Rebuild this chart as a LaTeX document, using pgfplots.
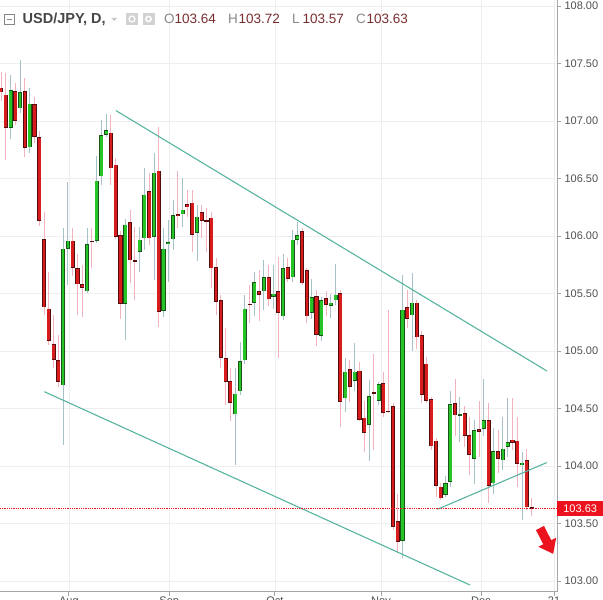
\documentclass[border=0pt]{standalone}
\usepackage{fontspec}
\setmainfont{Liberation Sans}
\usepackage{pgfplots}
\pgfplotsset{compat=1.18}
\usepackage{pgfplotstable}

\definecolor{upfill}{RGB}{38,196,38}
\definecolor{upedge}{RGB}{25,85,25}
\definecolor{dnfill}{RGB}{214,28,28}
\definecolor{dnedge}{RGB}{85,12,12}
\definecolor{upwick}{RGB}{166,193,200}
\definecolor{dnwick}{RGB}{242,178,190}
\definecolor{trend}{RGB}{88,180,160}
\definecolor{pricered}{RGB}{235,20,30}
\definecolor{axisgray}{RGB}{165,165,165}
\definecolor{gridgray}{RGB}{238,238,238}
\definecolor{labelgray}{RGB}{80,80,80}
\definecolor{hdrtext}{RGB}{70,70,70}
\definecolor{hdrval}{RGB}{120,45,45}
\definecolor{hdrgray}{RGB}{135,135,135}

% down (red) candles: index open high low close
\pgfplotstableread{
i o h l c
0 107.29 107.43 107.17 107.25
1 107.23 107.42 106.66 106.94
3 107.26 107.33 106.97 107.00
5 107.26 107.37 106.69 106.77
7 107.15 107.21 106.81 106.86
8 106.86 106.91 106.09 106.13
9 105.97 106.21 105.31 105.38
10 105.37 105.69 105.05 105.09
11 105.06 105.31 104.85 104.92
12 104.92 105.14 104.69 104.73
15 105.96 106.07 105.65 105.72
16 105.72 105.84 105.31 105.58
17 105.58 105.75 105.30 105.55
19 105.96 106.07 105.72 105.95
23 106.90 107.05 106.44 106.59
24 106.62 106.68 105.97 105.99
25 106.01 106.04 105.28 105.41
27 106.12 106.23 105.59 105.79
28 105.79 106.08 105.44 105.78
31 106.39 106.55 105.92 105.98
33 106.57 106.95 105.21 105.34
37 106.19 106.57 106.07 106.17
39 106.28 106.40 106.17 106.25
40 106.29 106.40 105.86 106.01
42 106.21 106.27 105.98 106.13
43 106.14 106.24 105.86 106.13
44 106.16 106.21 105.55 105.72
45 105.73 105.81 105.31 105.43
46 105.44 105.49 104.85 104.94
47 104.94 105.20 104.53 104.73
48 104.74 104.85 104.39 104.55
52 105.41 105.57 105.24 105.40
54 105.52 105.70 105.26 105.49
56 105.64 105.75 105.39 105.45
58 105.52 105.82 104.94 105.33
60 105.73 105.81 105.60 105.63
63 106.04 106.07 105.57 105.59
64 105.70 105.72 105.24 105.30
66 105.48 105.53 105.04 105.14
68 105.46 105.52 105.30 105.40
71 105.50 105.53 104.34 104.56
73 104.84 104.92 104.56 104.69
75 104.83 104.90 104.39 104.40
76 104.42 104.57 104.12 104.29
78 104.64 104.97 104.14 104.63
80 104.72 104.82 104.43 104.46
81 104.48 105.36 104.46 104.47
82 104.52 104.55 103.44 103.47
83 103.52 103.76 103.24 103.34
85 105.38 105.53 105.20 105.28
87 105.42 105.44 105.02 105.12
88 105.14 105.17 104.55 104.62
89 104.89 104.95 104.55 104.57
90 104.58 104.60 104.14 104.17
91 104.22 104.24 103.73 103.83
92 103.82 103.85 103.70 103.72
95 104.55 104.76 104.26 104.44
97 104.46 104.52 104.17 104.26
98 104.27 104.43 103.92 104.10
100 104.32 104.57 104.08 104.30
102 104.40 104.55 103.68 103.83
104 104.13 104.31 103.94 104.06
107 104.23 104.59 104.14 104.20
108 104.22 104.43 103.82 104.02
110 104.05 104.15 103.62 103.64
111 103.64 103.72 103.57 103.63
}\dn

% up (green) candles: index open high low close
\pgfplotstableread{
i o h l c
2 106.94 107.40 106.84 107.27
4 107.11 107.53 107.07 107.25
6 106.77 107.29 106.72 107.15
13 104.70 106.07 104.18 105.89
14 105.89 106.47 105.57 105.96
18 105.52 106.07 105.50 105.93
20 105.96 106.70 105.94 106.48
21 106.52 107.01 106.44 106.88
22 106.88 107.06 106.86 106.92
26 105.41 106.15 105.10 106.10
29 105.86 106.08 105.69 105.97
30 105.98 106.59 105.88 106.36
32 105.99 106.72 105.62 106.55
34 105.35 106.07 105.30 105.89
35 105.93 106.14 105.60 105.95
36 105.97 106.31 105.88 106.18
38 106.19 106.50 106.08 106.23
41 106.03 106.27 105.78 106.17
49 104.45 104.85 104.01 104.63
50 104.65 105.08 104.62 104.91
51 104.92 105.49 104.89 105.37
53 105.42 105.69 105.30 105.60
55 105.52 105.79 105.36 105.64
57 105.47 105.75 105.37 105.50
59 105.30 105.84 105.27 105.72
61 105.64 106.05 105.60 105.97
62 105.97 106.12 105.92 106.01
65 105.33 105.63 105.28 105.47
67 105.13 105.47 105.09 105.44
69 105.39 105.50 105.29 105.42
70 105.44 105.76 105.40 105.49
72 104.59 104.94 104.47 104.82
74 104.74 105.07 104.65 104.82
77 104.36 104.75 104.04 104.61
79 104.57 104.73 104.53 104.71
84 103.35 105.66 103.20 105.36
86 105.31 105.68 105.00 105.42
93 103.75 103.91 103.73 103.85
94 103.86 104.65 103.82 104.54
96 104.44 104.60 104.21 104.45
99 104.06 104.40 103.84 104.31
101 104.32 104.76 104.26 104.40
103 103.85 104.33 103.76 104.13
105 104.05 104.43 103.97 104.15
106 104.17 104.59 104.08 104.21
109 104.01 104.12 103.53 104.03
}\up

\pgfplotsset{
  wicks/.style={draw=none, no markers, error bars/.cd, y dir=both, y explicit, error mark=none,
    error bar style={draw=#1, line width=0.9pt, solid}},
  bodyedge/.style={draw=none, no markers, error bars/.cd, y dir=both, y explicit, error mark=none,
    error bar style={draw=#1, line width=4.1pt, solid}},
  bodyfill/.style={draw=none, no markers, error bars/.cd, y dir=both, y explicit, error mark=none,
    error bar style={draw=#1, line width=2.7pt, solid}},
}

\begin{document}
\begin{tikzpicture}
\path[use as bounding box] (0pt,0pt) rectangle (603pt,600pt);
\begin{axis}[
  at={(0pt,8pt)}, anchor=south west,
  width=557pt, height=592pt, scale only axis,
  xmin=-0.21, xmax=116.32, ymin=102.904, ymax=108.052,
  axis x line*=bottom, axis y line*=right,
  axis line style={draw=axisgray, line width=1pt},
  tick align=outside, major tick length=4pt,
  tick style={draw=axisgray, line width=0.8pt},
  ytick={103,103.5,104,104.5,105,105.5,106,106.5,107,107.5,108},
  xtick={14.2,35.2,57.3,79.5,100.4,115.7},
  xticklabels={Aug,Sep,Oct,Nov,Dec,21},
  /pgf/number format/assume math mode=true,
  yticklabel style={font=\fontsize{11}{12}\selectfont, text=labelgray,
     /pgf/number format/.cd, fixed, fixed zerofill, precision=2},
  xticklabel style={font=\fontsize{11}{12}\selectfont, text=labelgray, yshift=3pt},
  grid=major, major grid style={draw=gridgray, line width=0.6pt},
]
% wicks
\addplot[wicks=dnwick] table[x=i, y expr=(\thisrow{h}+\thisrow{l})/2, y error expr=(\thisrow{h}-\thisrow{l})/2] {\dn};
\addplot[wicks=upwick] table[x=i, y expr=(\thisrow{h}+\thisrow{l})/2, y error expr=(\thisrow{h}-\thisrow{l})/2] {\up};
% bodies
\addplot[bodyedge=dnedge] table[x=i, y expr=(\thisrow{o}+\thisrow{c})/2, y error expr={max(abs(\thisrow{c}-\thisrow{o})/2,0.005)}] {\dn};
\addplot[bodyfill=dnfill] table[x=i, y expr=(\thisrow{o}+\thisrow{c})/2, y error expr={max(abs(\thisrow{c}-\thisrow{o})/2-0.006,0)}] {\dn};
\addplot[bodyedge=upedge] table[x=i, y expr=(\thisrow{o}+\thisrow{c})/2, y error expr={max(abs(\thisrow{c}-\thisrow{o})/2,0.005)}] {\up};
\addplot[bodyfill=upfill] table[x=i, y expr=(\thisrow{o}+\thisrow{c})/2, y error expr={max(abs(\thisrow{c}-\thisrow{o})/2-0.006,0)}] {\up};
% trend lines
\addplot[trend, line width=1.1pt] coordinates {(24.06,107.09) (114.2,104.826)};
\addplot[trend, line width=1.1pt] coordinates {(9.06,104.646) (98.1,102.965)};
\addplot[trend, line width=1.1pt] coordinates {(91.28,103.623) (114.16,104.029)};
% current price line
\addplot[pricered, densely dotted, line width=0.8pt] coordinates {(-0.21,103.63) (116.32,103.63)};
\end{axis}
% header
\draw[hdrgray, line width=0.8pt] (4.5pt,575.5pt) rectangle (14.5pt,586pt);
\draw[hdrgray, line width=0.8pt] (7pt,580.75pt) -- (12pt,580.75pt);
\node[anchor=base west, inner sep=0pt, text=hdrtext, font=\bfseries\fontsize{14.5}{15}\selectfont] at (22.5pt,576pt) {USD/JPY, D,};
\fill[gray!45] (111.5pt,582pt) -- (117pt,582pt) -- (114.25pt,579pt) -- cycle;
\fill[gray!35] (126pt,575pt) rectangle (138pt,587pt);
\draw[white, line width=1.2pt] (132pt,581pt) circle (3pt);
\fill[gray!35] (142.5pt,575pt) rectangle (154.5pt,587pt);
\draw[white, line width=1.6pt] (148.5pt,581pt) circle (2.6pt);
\foreach \xx/\lab/\val in {164/O/103.64, 228/H/103.72, 292/L/103.57, 356/C/103.63}{
  \node[anchor=base west, inner sep=0pt, text=hdrgray, font=\fontsize{13.5}{14}\selectfont] at (\xx pt,576pt) {\lab};
  \node[anchor=base west, inner sep=0pt, text=hdrval, font=\fontsize{13.5}{14}\selectfont] at (\xx pt+10.5pt,576pt) {\val};
}
% price label
\node[fill=pricered, text=white, anchor=west, inner sep=0pt, minimum height=15pt, minimum width=46pt, font=\fontsize{11}{12}\selectfont] at (557pt,91.5pt) {103.63};
% red arrow
\begin{scope}[shift={(540pt,72pt)}, rotate=-63]
\fill[pricered] (0pt,-4.5pt) -- (16pt,-4.5pt) -- (16pt,-10pt) -- (29pt,0pt) -- (16pt,10pt) -- (16pt,4.5pt) -- (0pt,4.5pt) -- cycle;
\end{scope}
\end{tikzpicture}
\end{document}
